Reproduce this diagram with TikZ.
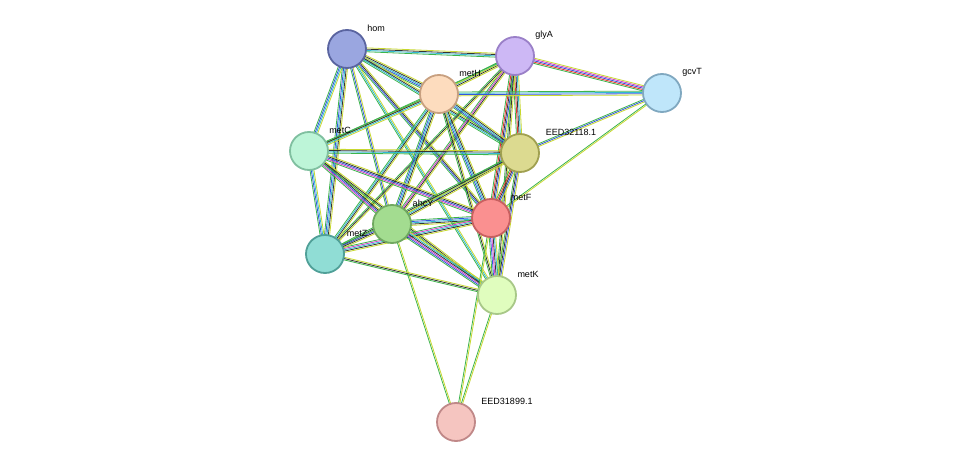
\documentclass[tikz,border=0pt]{standalone}
\usepackage{fontspec}
\setmainfont{Liberation Sans}
\usetikzlibrary{calc,backgrounds}
\definecolor{eg}{HTML}{3CB44B}
\definecolor{er}{HTML}{E8352E}
\definecolor{eb}{HTML}{3355DD}
\definecolor{ek}{HTML}{333333}
\definecolor{em}{HTML}{D040C8}
\definecolor{ec}{HTML}{30B8D0}
\definecolor{ey}{HTML}{C8D830}
\newcommand\bund[4]{%
 \foreach \cl [count=\i] in {#4}{%
  \pgfmathsetmacro\o{(\i-(#3+1)/2)*1.3}%
  \draw[draw=\cl,line width=0.8pt] ($(#1.center)!\o pt!90:(#2.center)$) -- ($(#2.center)!\o pt!-90:(#1.center)$);}}
\tikzset{prot/.style={circle,minimum size=38pt,inner sep=0pt,line width=1.8pt},
 lab/.style={font=\fontsize{9}{11}\selectfont,inner sep=0pt}}
\begin{document}
\begin{tikzpicture}[x=1pt,y=-1pt]
\useasboundingbox (0,0) rectangle (975,468);
\node[prot,fill={rgb,255:red,154;green,166;blue,224},draw={rgb,255:red,90;green,100;blue,160}] (hom) at (347,49) {};
\node[prot,fill={rgb,255:red,205;green,184;blue,245},draw={rgb,255:red,154;green,128;blue,200}] (glyA) at (515,56) {};
\node[prot,fill={rgb,255:red,191;green,230;blue,250},draw={rgb,255:red,128;green,168;blue,192}] (gcvT) at (662,93) {};
\node[prot,fill={rgb,255:red,253;green,220;blue,190},draw={rgb,255:red,200;green,160;blue,128}] (metH) at (439,94) {};
\node[prot,fill={rgb,255:red,220;green,218;blue,144},draw={rgb,255:red,160;green,160;blue,80}] (E1) at (520,153) {};
\node[prot,fill={rgb,255:red,189;green,245;blue,216},draw={rgb,255:red,128;green,192;blue,160}] (metC) at (309,151) {};
\node[prot,fill={rgb,255:red,250;green,144;blue,144},draw={rgb,255:red,200;green,96;blue,96}] (metF) at (491,218) {};
\node[prot,fill={rgb,255:red,163;green,220;blue,144},draw={rgb,255:red,112;green,168;blue,96}] (ahcY) at (392,224) {};
\node[prot,fill={rgb,255:red,144;green,221;blue,213},draw={rgb,255:red,80;green,160;blue,152}] (metZ) at (325,254) {};
\node[prot,fill={rgb,255:red,224;green,253;blue,190},draw={rgb,255:red,168;green,200;blue,136}] (metK) at (497,295) {};
\node[prot,fill={rgb,255:red,245;green,197;blue,192},draw={rgb,255:red,192;green,136;blue,136}] (E2) at (456,422) {};
\node[lab] (lhom) at (376,28) {hom};
\node[lab] (lglyA) at (544,35) {glyA};
\node[lab] (lgcvT) at (692,72) {gcvT};
\node[lab] (lmetH) at (470,73) {metH};
\node[lab] (lE1) at (571,132) {EED32118.1};
\node[lab] (lmetC) at (340,130) {metC};
\node[lab] (lmetF) at (521,197) {metF};
\node[lab] (lahcY) at (423,203) {ahcY};
\node[lab] (lmetZ) at (357,233) {metZ};
\node[lab] (lmetK) at (528,274) {metK};
\node[lab] (lE2) at (507,401) {EED31899.1};
\begin{pgfonlayer}{background}
\fill[white] (0,0) rectangle (975,468);
\bund{hom}{glyA}{4}{eg,ec,ek,ey}
\bund{hom}{metH}{5}{eg,eb,ec,ek,ey}
\bund{hom}{metC}{4}{eg,eb,ec,ey}
\bund{hom}{E1}{4}{eg,ec,ek,ey}
\bund{hom}{metF}{4}{eg,eb,ek,ey}
\bund{hom}{ahcY}{3}{eg,eb,ey}
\bund{hom}{metZ}{5}{eg,eb,ec,ek,ey}
\bund{hom}{metK}{3}{eg,ec,ey}
\bund{glyA}{gcvT}{5}{eg,er,eb,em,ey}
\bund{glyA}{metH}{4}{eg,ec,ek,ey}
\bund{glyA}{E1}{5}{eg,er,ek,ec,ey}
\bund{glyA}{metF}{5}{eg,er,ek,eb,ey}
\bund{glyA}{ahcY}{4}{eg,em,ek,ey}
\bund{glyA}{metZ}{3}{eg,ek,ey}
\bund{glyA}{metK}{3}{eg,ek,ey}
\bund{glyA}{metC}{2}{eg,ey}
\bund{gcvT}{metH}{4}{eg,ec,eb,ey}
\bund{gcvT}{E1}{3}{eg,eb,ey}
\bund{gcvT}{metF}{2}{eg,ey}
\bund{metH}{metC}{4}{eg,ek,ec,ey}
\bund{metH}{E1}{5}{eg,eb,ec,ek,ey}
\bund{metH}{metF}{5}{eg,eb,ec,ek,ey}
\bund{metH}{ahcY}{5}{eg,eb,ec,ek,ey}
\bund{metH}{metZ}{4}{eg,ec,ek,ey}
\bund{metH}{metK}{3}{eg,ek,ey}
\bund{metC}{E1}{4}{eg,ec,ek,ey}
\bund{metC}{metF}{5}{eg,em,eb,ek,ey}
\bund{metC}{ahcY}{5}{eg,em,eb,ek,ey}
\bund{metC}{metZ}{4}{eg,eb,ec,ey}
\bund{metC}{metK}{3}{eg,ek,ey}
\bund{E1}{metF}{5}{eg,er,ek,eb,ey}
\bund{E1}{ahcY}{4}{eg,ec,ek,ey}
\bund{E1}{metZ}{3}{eg,ek,ey}
\bund{E1}{metK}{4}{eg,ek,eb,ey}
\bund{metF}{ahcY}{5}{eg,eb,ec,ek,ey}
\bund{metF}{metZ}{5}{eg,em,ec,ek,ey}
\bund{metF}{metK}{6}{eg,eb,em,ek,ec,ey}
\bund{ahcY}{metZ}{4}{eg,eb,ek,ey}
\bund{ahcY}{metK}{6}{eg,eb,em,ek,ec,ey}
\bund{ahcY}{E2}{2}{eg,ey}
\bund{metZ}{metK}{3}{eg,ek,ey}
\bund{metK}{E2}{2}{eg,ey}
\bund{metF}{E2}{2}{eg,ey}
\end{pgfonlayer}
\end{tikzpicture}
\end{document}
